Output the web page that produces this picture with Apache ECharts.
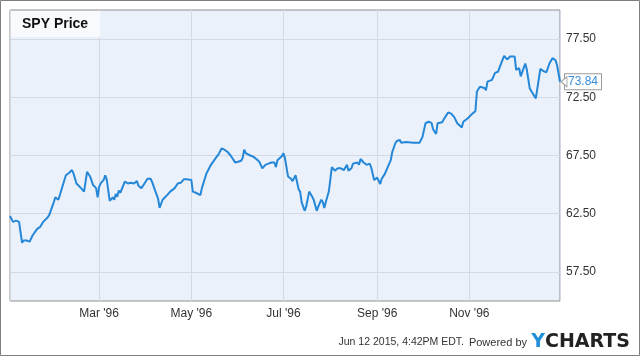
<!DOCTYPE html>
<html>
<head>
<meta charset="utf-8">
<script src="https://cdn.jsdelivr.net/npm/echarts@6/dist/echarts.min.js"></script>
<style>
html,body{margin:0;padding:0;background:#fff;}
#c{width:640px;height:356px;}
</style>
</head>
<body>
<div id="c"></div>
<script>
const title = 'SPY Price';
const footerText = 'Jun 12 2015, 4:42PM EDT.';
const poweredText = 'Powered by';
const monthNames = ['Jan','Feb','Mar','Apr','May','Jun','Jul','Aug','Sep','Oct','Nov','Dec'];
const yTickLabels = [57.5, 62.5, 67.5, 72.5, 77.5];

const dates = [
'1996-01-02','1996-01-04','1996-01-06','1996-01-08','1996-01-10','1996-01-11','1996-01-13','1996-01-15','1996-01-17','1996-01-18',
'1996-01-20','1996-01-22','1996-01-24','1996-01-25','1996-01-27','1996-01-28','1996-01-31','1996-02-01','1996-02-03','1996-02-04',
'1996-02-06','1996-02-08','1996-02-09','1996-02-10','1996-02-12','1996-02-13','1996-02-15','1996-02-18','1996-02-20','1996-02-22',
'1996-02-24','1996-02-26','1996-02-28','1996-02-29','1996-03-01','1996-03-02','1996-03-04','1996-03-05','1996-03-06','1996-03-07',
'1996-03-08','1996-03-10','1996-03-11','1996-03-12','1996-03-13','1996-03-14','1996-03-15','1996-03-18','1996-03-20','1996-03-22',
'1996-03-24','1996-03-26','1996-03-27','1996-03-28','1996-03-29','1996-03-31','1996-04-02','1996-04-04','1996-04-05','1996-04-07',
'1996-04-09','1996-04-10','1996-04-11','1996-04-12','1996-04-15','1996-04-17','1996-04-18','1996-04-20','1996-04-22','1996-04-23',
'1996-04-24','1996-04-26','1996-04-28','1996-05-01','1996-05-02','1996-05-04','1996-05-07','1996-05-08','1996-05-09','1996-05-11',
'1996-05-14','1996-05-15','1996-05-17','1996-05-19','1996-05-20','1996-05-21','1996-05-23','1996-05-24','1996-05-25','1996-05-27',
'1996-05-28','1996-05-29','1996-05-30','1996-05-31','1996-06-01','1996-06-03','1996-06-04','1996-06-05','1996-06-06','1996-06-09',
'1996-06-11','1996-06-13','1996-06-15','1996-06-16','1996-06-17','1996-06-19','1996-06-21','1996-06-23','1996-06-25','1996-06-26',
'1996-06-27','1996-06-30','1996-07-01','1996-07-02','1996-07-04','1996-07-06','1996-07-07','1996-07-09','1996-07-11','1996-07-12',
'1996-07-13','1996-07-15','1996-07-16','1996-07-18','1996-07-20','1996-07-21','1996-07-23','1996-07-24','1996-07-26','1996-07-27',
'1996-07-28','1996-07-29','1996-07-31','1996-08-02','1996-08-04','1996-08-06','1996-08-07','1996-08-08','1996-08-10','1996-08-12',
'1996-08-13','1996-08-15','1996-08-16','1996-08-19','1996-08-20','1996-08-21','1996-08-23','1996-08-25','1996-08-27','1996-08-28',
'1996-08-30','1996-09-01','1996-09-02','1996-09-03','1996-09-04','1996-09-06','1996-09-08','1996-09-10','1996-09-11','1996-09-13',
'1996-09-14','1996-09-16','1996-09-17','1996-09-18','1996-09-20','1996-09-25','1996-09-29','1996-10-01','1996-10-02','1996-10-03',
'1996-10-05','1996-10-07','1996-10-08','1996-10-10','1996-10-11','1996-10-12','1996-10-14','1996-10-16','1996-10-18','1996-10-20',
'1996-10-22','1996-10-23','1996-10-24','1996-10-27','1996-10-28','1996-10-29','1996-10-31','1996-11-01','1996-11-03','1996-11-05',
'1996-11-06','1996-11-08','1996-11-11','1996-11-12','1996-11-13','1996-11-16','1996-11-18','1996-11-20','1996-11-22','1996-11-24',
'1996-11-26','1996-11-28','1996-12-01','1996-12-02','1996-12-04','1996-12-05','1996-12-08','1996-12-09','1996-12-11','1996-12-12',
'1996-12-15','1996-12-18','1996-12-20','1996-12-22','1996-12-24','1996-12-26','1996-12-28','1996-12-29','1996-12-31'
];

const prices = [
62.3,61.8,61.9,61.8,60.0,60.2,60.2,60.1,60.65,60.8,
61.2,61.37,61.8,61.95,62.2,62.4,63.5,63.9,63.7,64.1,
64.96,65.8,65.9,66.0,66.25,65.96,65.1,64.7,64.4,66.1,
65.7,64.96,64.7,63.9,64.8,65.1,65.4,65.8,65.45,65.5,
63.6,63.9,63.7,64.2,63.95,64.5,64.3,65.25,65.1,65.15,
65.1,65.3,64.9,64.96,64.7,65.1,65.5,65.5,65.25,64.5,
63.8,63.0,62.95,63.7,64.1,64.4,64.4,64.7,65.1,65.25,
65.15,65.45,65.45,65.4,64.4,64.3,64.1,64.7,64.8,65.96,
66.7,66.8,67.25,67.6,67.7,68.1,68.0,68.1,67.8,67.5,
67.3,67.1,66.9,67.05,66.96,67.05,67.3,68.0,67.7,67.5,
67.4,67.2,66.96,66.9,66.4,66.7,66.8,66.9,66.9,66.5,
67.1,67.45,67.7,67.26,65.7,65.5,65.3,65.8,64.6,64.4,
63.5,62.75,63.1,64.4,63.95,63.7,62.75,63.1,63.7,63.5,
63.0,63.5,64.4,66.5,66.2,66.4,66.25,66.4,66.25,66.7,
66.2,66.4,66.8,66.9,66.7,67.2,66.9,66.7,66.8,66.5,
65.4,65.6,65.7,65.05,65.5,65.9,66.5,67.1,67.8,68.55,
68.75,68.83,68.6,68.7,68.65,68.6,68.6,69.1,69.7,70.27,
70.4,70.3,69.75,69.35,70.27,70.35,70.35,70.8,71.2,71.1,
70.8,70.7,70.27,69.9,70.4,70.55,70.7,70.8,71.1,71.3,
73.0,73.4,73.3,73.1,73.85,74.0,74.6,74.7,75.4,76.06,
75.75,76.0,76.0,74.85,75.0,74.3,75.4,74.9,73.25,73.2,
72.4,74.95,74.75,74.65,75.4,75.86,75.7,75.3,73.84
];

const xMin = dates[0];
const xMax = dates[dates.length - 1];
const seriesData = dates.map((d, i) => [d, prices[i]]);
const lastPoint = seriesData[seriesData.length - 1];

const chart = echarts.init(document.getElementById('c'), null, {renderer: 'canvas'});
const gridColor = '#d3dae4';
const font = 'Arial, "Liberation Sans", Helvetica, sans-serif';

chart.setOption({
  animation: false,
  backgroundColor: '#ffffff',
  textStyle: {fontFamily: font},
  title: {
    text: title,
    left: 11, top: 11,
    padding: [6, 12, 6, 11],
    backgroundColor: '#f8fafd',
    textStyle: {fontSize: 14, fontWeight: 'bold', color: '#111', fontFamily: font}
  },
  grid: {
    left: 10, top: 10, width: 550, height: 291,
    show: true, backgroundColor: '#eaf1fb', borderColor: '#8f8f8f', borderWidth: 1
  },
  xAxis: {
    type: 'time',
    min: xMin, max: xMax,
    splitNumber: 5,
    axisLine: {show: false},
    axisTick: {show: false},
    splitLine: {show: true, lineStyle: {color: gridColor, width: 1}},
    axisLabel: {
      margin: 7, color: '#333', fontSize: 12, fontFamily: font,
      showMinLabel: false, showMaxLabel: false,
      formatter: function (v) {
        const d = new Date(v);
        if (d.getMonth() === 0) return '';
        return monthNames[d.getMonth()] + " '" + String(d.getFullYear()).slice(2);
      }
    }
  },
  yAxis: {
    type: 'value',
    position: 'right',
    min: 55, max: 80, interval: 2.5,
    axisLine: {show: false},
    axisTick: {show: false},
    splitLine: {show: true, lineStyle: {color: ['rgba(0,0,0,0)', gridColor], width: 1}},
    axisLabel: {
      margin: 6, color: '#333', fontSize: 12, fontFamily: font,
      formatter: function (v) {
        return yTickLabels.some(t => Math.abs(t - v) < 1e-6) ? v.toFixed(2) : '';
      }
    }
  },
  series: [{
    type: 'line',
    data: seriesData,
    showSymbol: false,
    lineStyle: {color: '#2587d7', width: 2},
    itemStyle: {color: '#2587d7'},
    endLabel: {
      show: true,
      formatter: p => p.value[1].toFixed(2),
      distance: 5,
      color: '#3a8ed8',
      fontSize: 12,
      fontFamily: font,
      backgroundColor: '#ffffff',
      borderColor: '#9a9a9a',
      borderWidth: 1,
      padding: [2, 3, 1, 3]
    },
    markPoint: {
      silent: true,
      symbol: 'path://M0,5 L6,0 L6,10 Z',
      symbolSize: [6, 10],
      symbolOffset: [4, 0],
      itemStyle: {color: '#ffffff', borderColor: '#9a9a9a', borderWidth: 1},
      label: {show: false},
      data: [{coord: lastPoint}]
    }
  }],
  graphic: [
    {type: 'rect', shape: {x: 0.5, y: 0.5, width: 639, height: 355}, style: {fill: 'none', stroke: '#7f7f7f', lineWidth: 1}, silent: true},
    {type: 'text', right: 176, top: 337, style: {text: footerText, fill: '#333', font: '10.5px ' + font}},
    {type: 'text', right: 113, top: 337, style: {text: poweredText, fill: '#333', font: '11px ' + font}},
    {type: 'text', right: 10, top: 333, style: {
      text: '{y|Y}{c|CHARTS}',
      rich: {
        y: {fill: '#1f8fd8', fontSize: 19, fontWeight: 'bold', fontFamily: '"DejaVu Sans", sans-serif'},
        c: {fill: '#222', fontSize: 19, fontWeight: 'bold', fontFamily: '"DejaVu Sans", sans-serif'}
      }
    }}
  ]
});
</script>
</body>
</html>
